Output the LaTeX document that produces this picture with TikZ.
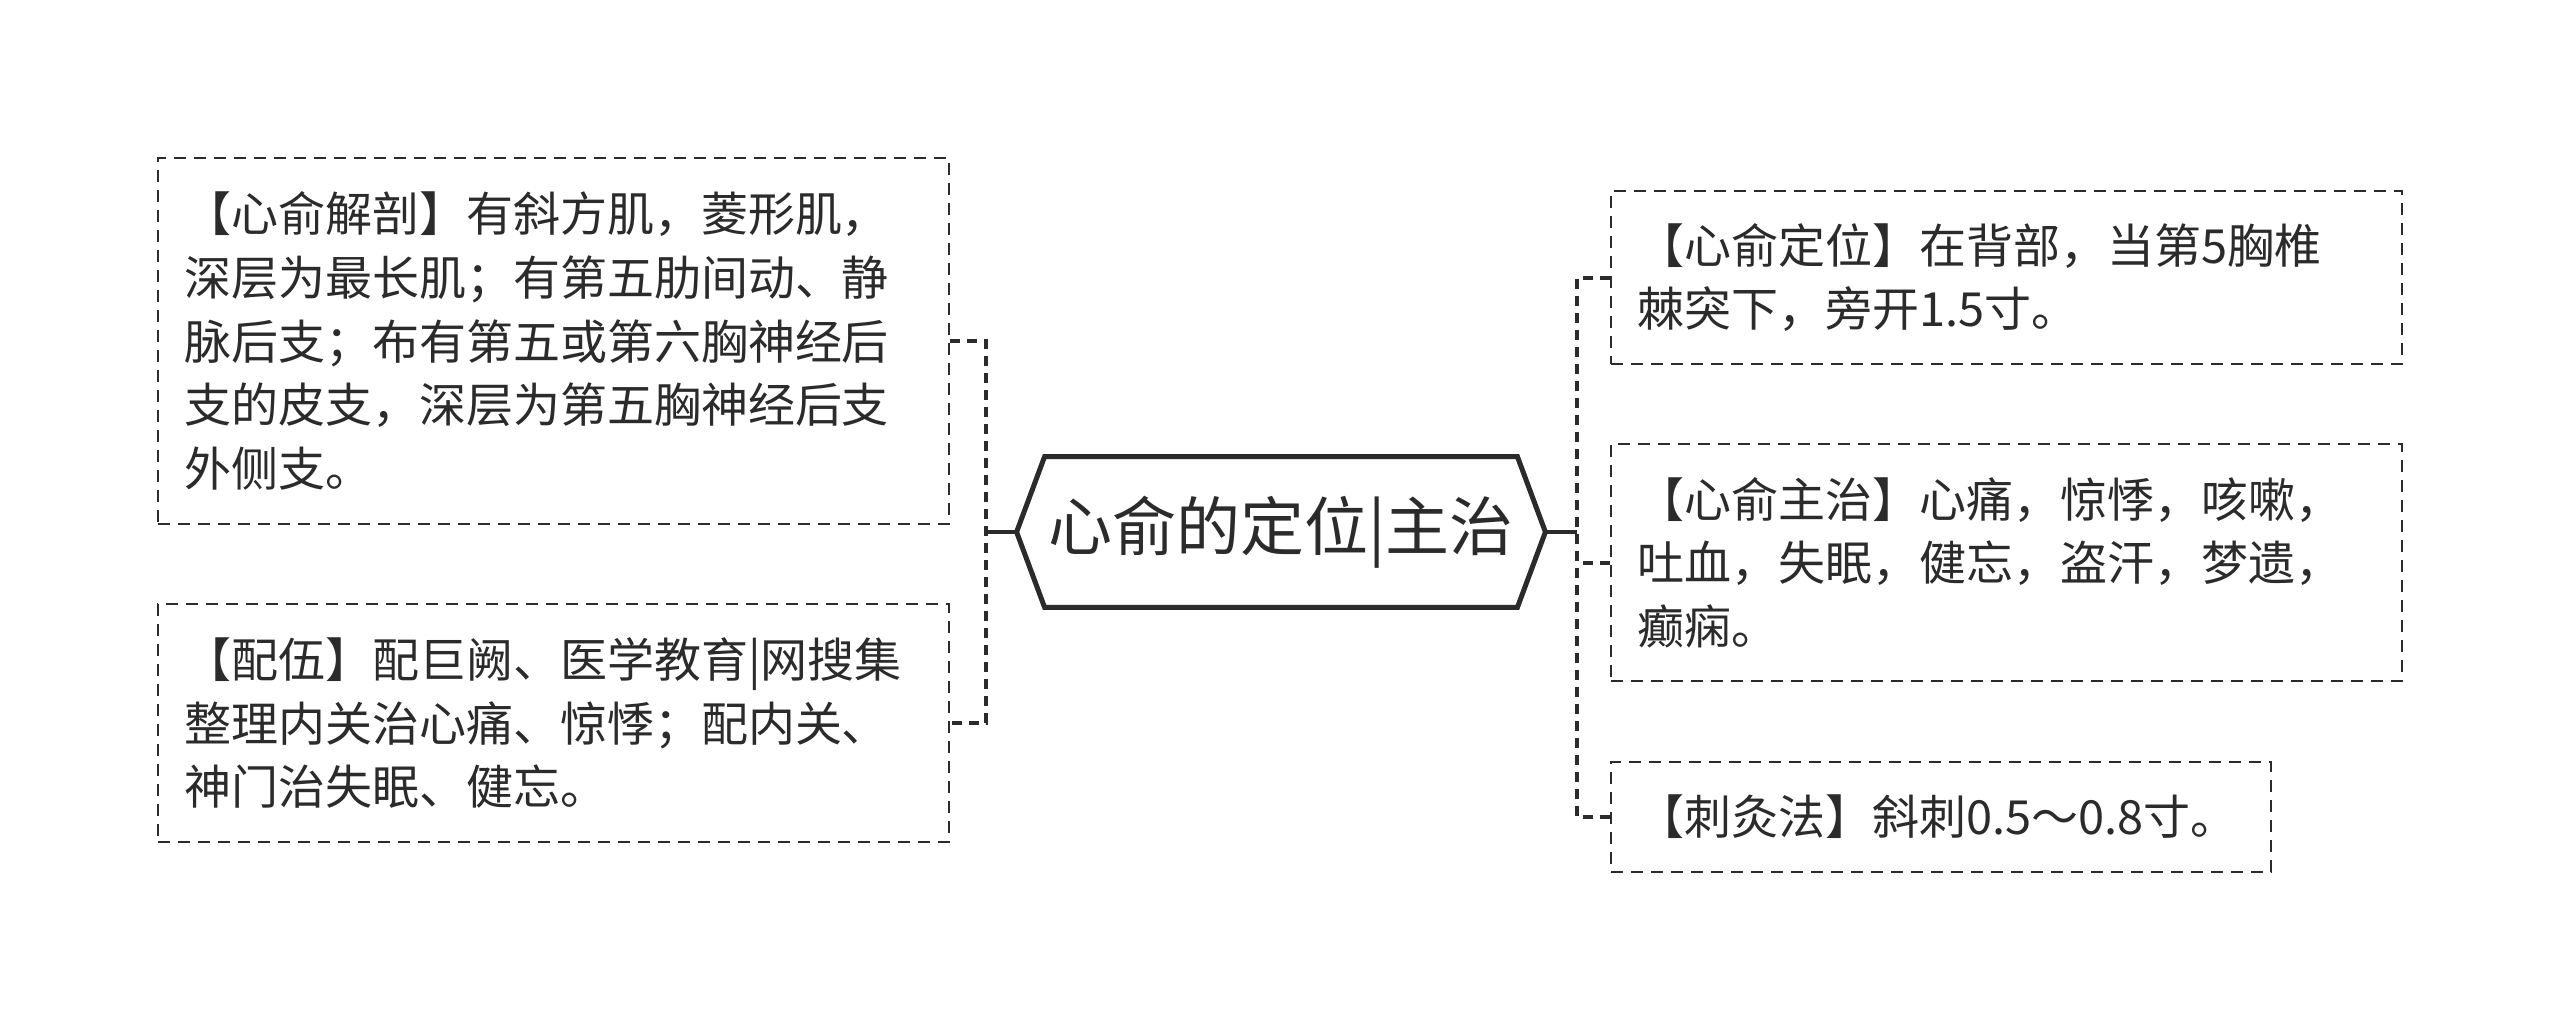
\documentclass[tikz,border=0pt]{standalone}
\usepackage{fontspec}
\setmainfont{Noto Sans CJK SC}
\definecolor{ink}{HTML}{2B2B2B}
\begin{document}
\begin{tikzpicture}
[x=0.5pt,y=-0.5pt,
 leaf/.style={draw=ink, line width=1.3pt, dash pattern=on 6pt off 4pt, text=ink,
   font=\fontsize{23.5pt}{31.8pt}\selectfont, align=left, inner xsep=13pt, inner ysep=0pt},
 hubtext/.style={text=ink, font=\fontsize{32pt}{38pt}\selectfont, inner sep=0pt,
   minimum width=264pt, minimum height=75pt},
 stem/.style={draw=ink, line width=2pt},
 link/.style={draw=ink, line width=2pt, dash pattern=on 5pt off 3.5pt}]
\fill[white] (0,0) rectangle (2560,1033);
\useasboundingbox (0,0) rectangle (2560,1033);
% centre
\node[hubtext] (hub) at (1281,532) {心俞的定位|主治};
\draw[ink, line width=2.5pt] (hub.west) -- ([xshift=14pt]hub.north west) -- ([xshift=-14pt]hub.north east)
  -- (hub.east) -- ([xshift=-14pt]hub.south east) -- ([xshift=14pt]hub.south west) -- cycle;
% left side
\node[leaf, text width=369.5pt, minimum height=183pt] (anat) at (553.5,341)
  {【心俞解剖】有斜方肌，菱形肌，\\深层为最长肌；有第五肋间动、静\\脉后支；布有第五或第六胸神经后\\支的皮支，深层为第五胸神经后支\\外侧支。};
\node[leaf, text width=369.5pt, minimum height=119pt] (pair) at (553.5,723)
  {【配伍】配巨阙、医学教育|网搜集\\整理内关治心痛、惊悸；配内关、\\神门治失眠、健忘。};
% right side
\node[leaf, text width=369.5pt, minimum height=86.5pt] (locate) at (2006.5,277.5)
  {【心俞定位】在背部，当第5胸椎\\棘突下，旁开1.5寸。};
\node[leaf, text width=369.5pt, minimum height=118.5pt] (treat) at (2006.5,562.5)
  {【心俞主治】心痛，惊悸，咳嗽，\\吐血，失眠，健忘，盗汗，梦遗，\\癫痫。};
\node[leaf, text width=304pt, minimum height=55pt] (needle) at (1941,817)
  {【刺灸法】斜刺0.5～0.8寸。};
% connectors
\coordinate (lbus) at (986,532);
\coordinate (rbus) at (1577,532);
\draw[stem] (hub.west) -- (lbus);
\draw[stem] (hub.east) -- (rbus);
\draw[link] (anat.east) -| (lbus) |- (pair.east);
\draw[link] (locate.west) -| (rbus) |- (needle.west);
\draw[link] (treat.west) -| (rbus);
\end{tikzpicture}
\end{document}
